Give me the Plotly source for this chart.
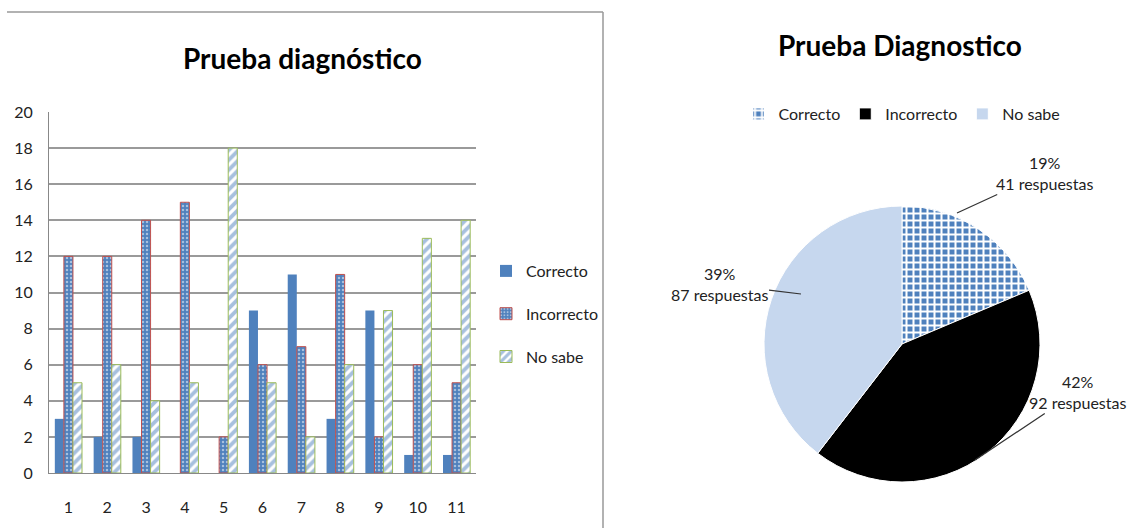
import plotly.graph_objects as go

# ---- data ----
questions = ["1", "2", "3", "4", "5", "6", "7", "8", "9", "10", "11"]
correcto = [3, 2, 2, 0, 0, 9, 11, 3, 9, 1, 1]
incorrecto = [12, 12, 14, 15, 2, 6, 7, 11, 2, 6, 5]
no_sabe = [5, 6, 4, 5, 18, 5, 2, 6, 9, 13, 14]

pie_labels = ["Correcto", "Incorrecto", "No sabe"]
pie_values = [41, 92, 87]
pie_pct_text = ["19%", "42%", "39%"]

y_ticks = [0, 2, 4, 6, 8, 10, 12, 14, 16, 18, 20]

W, H = 1129, 528
BLUE = "#4F81BD"
RED = "#C0504D"
GREEN = "#9BBB59"
FONT = "Lato"


def px(x):
    return x / W


def py(y):
    return 1 - y / H


fig = go.Figure()

fig.add_trace(go.Bar(
    x=questions, y=correcto, name="Correcto",
    marker=dict(color=BLUE, line=dict(width=0)),
    legend="legend", legendgroup="c",
))
fig.add_trace(go.Bar(
    x=questions, y=incorrecto, name="Incorrecto",
    marker=dict(color=BLUE, line=dict(color=RED, width=1),
                pattern=dict(shape=".", fgcolor="white", bgcolor=BLUE,
                             size=4, solidity=0.3)),
    legend="legend", legendgroup="i",
))
fig.add_trace(go.Bar(
    x=questions, y=no_sabe, name="No sabe",
    marker=dict(color="white", line=dict(color=GREEN, width=1),
                pattern=dict(shape="/", fgcolor=BLUE, bgcolor="white",
                             size=7, solidity=0.55)),
    legend="legend", legendgroup="n",
))

fig.add_trace(go.Pie(
    labels=pie_labels, values=pie_values,
    sort=False, direction="clockwise", rotation=0,
    textinfo="none", hoverinfo="label+value+percent",
    marker=dict(colors=[BLUE, "black", "#C6D7EE"],
                line=dict(color="white", width=1),
                pattern=dict(shape=["+", "", ""], fgcolor=["white", "black", "#C6D7EE"],
                             bgcolor=[BLUE, "black", "#C6D7EE"], size=7, solidity=0.5)),
    domain=dict(x=[px(764), px(1040)], y=[py(482), py(206)]),
    legend="legend2",
))

fig.update_layout(
    width=W, height=H,
    margin=dict(l=0, r=0, t=0, b=0, autoexpand=False),
    paper_bgcolor="white", plot_bgcolor="white",
    font=dict(family=FONT, size=15, color="#222"),
    barmode="group", bargap=0.3, bargroupgap=0,
    xaxis=dict(domain=[px(49), px(476)], type="category", automargin=False,
               showgrid=False, showline=True, linecolor="#888", linewidth=1,
               ticks="", tickfont=dict(size=16, color="#222"), ticklabelstandoff=20),
    yaxis=dict(domain=[py(473), py(112)], range=[0, 20], tickvals=y_ticks,
               automargin=False,
               showgrid=True, gridcolor="#9a9a9a", gridwidth=1.5,
               showline=True, linecolor="#888", linewidth=1,
               zeroline=False, ticks="", tickfont=dict(size=16, color="#222"),
               ticklabelstandoff=12),
    legend=dict(x=px(486), y=py(254), xanchor="left", yanchor="top",
                orientation="v", font=dict(size=16, color="#222"),
                tracegroupgap=19, itemwidth=30, bgcolor="rgba(0,0,0,0)"),
    legend2=dict(x=px(902), y=py(114), xanchor="center", yanchor="middle",
                 orientation="h", font=dict(size=16, color="#222"),
                 itemwidth=30, bgcolor="rgba(0,0,0,0)"),
    showlegend=True,
)

# titles
fig.add_annotation(text="<b>Prueba diagnóstico</b>", x=px(302), y=py(58),
                   xref="paper", yref="paper", xanchor="center", yanchor="middle",
                   showarrow=False,
                   font=dict(size=28, color="black", family=FONT))
fig.add_annotation(text="<b>Prueba Diagnostico</b>", x=px(900), y=py(45),
                   xref="paper", yref="paper", xanchor="center", yanchor="middle",
                   showarrow=False,
                   font=dict(size=28, color="black", family=FONT))

# pie data labels with leader lines
label_pos = [
    # (tip_x, tip_y, ax, ay)
    (957, 213, 87, -40),
    (975, 460, 102, -68),
    (801, 294, -82, -10),
]
for (tx, ty, ax, ay), pct, val in zip(label_pos, pie_pct_text, pie_values):
    fig.add_annotation(text=f"{pct}<br>{val} respuestas",
                       x=px(tx), y=py(ty), xref="paper", yref="paper",
                       ax=ax, ay=ay, showarrow=True, arrowhead=0,
                       arrowwidth=1.2, arrowcolor="#333",
                       align="center", font=dict(size=16, color="#222"))

# chart frame of the left chart
fig.add_shape(type="line", xref="paper", yref="paper",
              x0=px(7), x1=px(603), y0=py(12), y1=py(12),
              line=dict(color="#999", width=1.5))
fig.add_shape(type="line", xref="paper", yref="paper",
              x0=px(603), x1=px(603), y0=py(12), y1=0,
              line=dict(color="#999", width=1.5))

fig.write_html("out.html")
